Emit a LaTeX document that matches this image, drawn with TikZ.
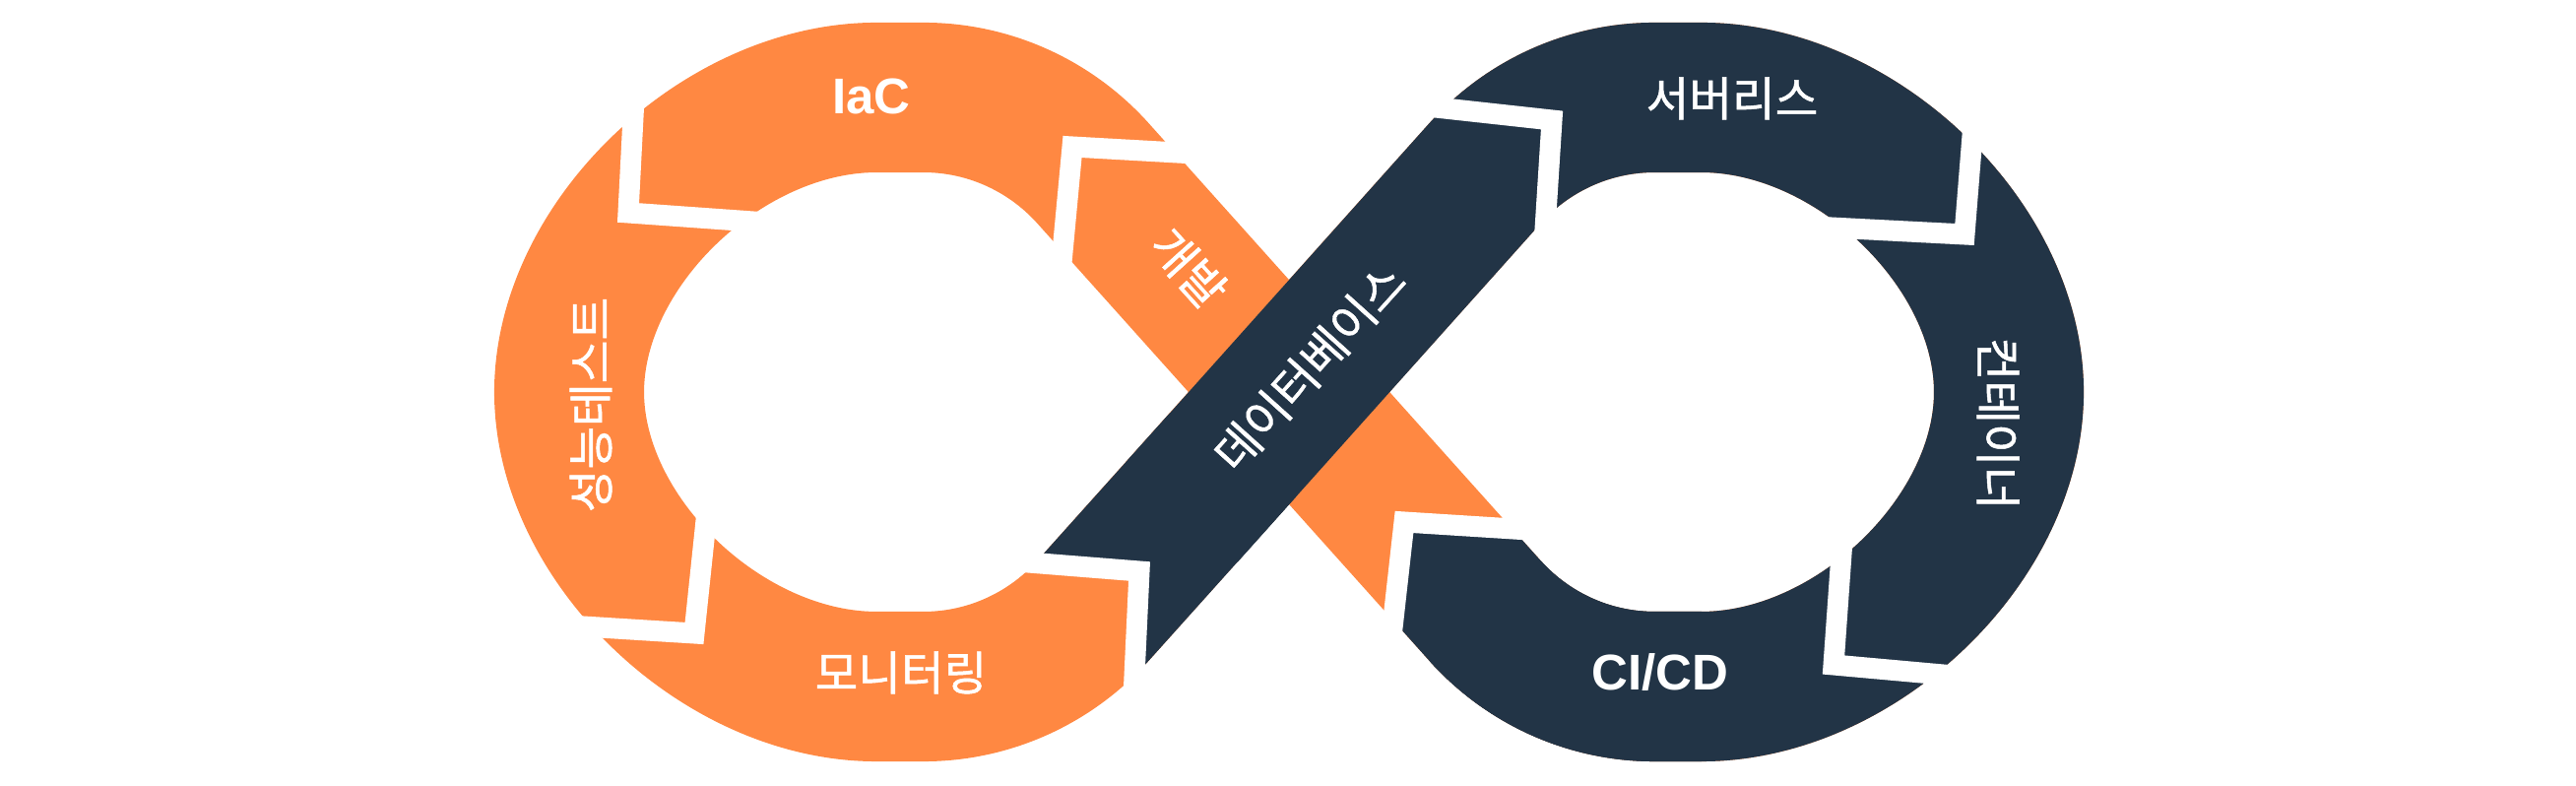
\documentclass[tikz,border=0pt]{standalone}
\usepackage{fontspec}
\usepackage{xcolor}
\usepackage{tikz}
\newfontfamily\krfont{Noto Sans CJK KR}[FakeBold=1]
\newfontfamily\enfont{Liberation Sans}
\definecolor{devorange}{HTML}{FF8842}
\definecolor{opsnavy}{HTML}{223446}

\begin{document}
\begin{tikzpicture}[x=0.01cm,y=-0.01cm]
  \tikzset{band/.style={line width=1.52cm, line join=round},
    gap/.style={draw=white, line width=0.21cm, line join=miter},
    label/.style={text=white, inner sep=0pt, font=\krfont\fontsize{13.5}{16}\selectfont},
    tag/.style={text=white, inner sep=0pt, font=\enfont\bfseries\fontsize{14.5}{17}\selectfont}};
  \useasboundingbox (0,0) rectangle (2616,798);
  \coordinate (x) at (1309,398);
  \coordinate (p1) at (1110,176);
  \coordinate (p2) at (1110,620);
  \coordinate (p3) at (1508,176);
  \coordinate (p4) at (1508,620);
  \coordinate (tl) at (890,99);
  \coordinate (ll) at (578,398);
  \coordinate (bl) at (890,697);
  \coordinate (tr) at (1728,99);
  \coordinate (rr) at (2040,398);
  \coordinate (br) at (1728,697);
  \draw[band, devorange] (x) -- (p1) .. controls (1066,127) and (1003.5,99) .. (938,99) -- (tl)
    .. controls (734,99) and (578,248) .. (ll) .. controls (578,548) and (734,697) .. (bl)
    -- (938,697) .. controls (1003.5,697) and (1066,669) .. (p2) -- (x) -- (p3)
    .. controls (1552,127) and (1614.5,99) .. (1680,99) -- (tr)
    .. controls (1884,99) and (2040,248) .. (rr) .. controls (2040,548) and (1884,697) .. (br)
    -- (1680,697) .. controls (1614.5,697) and (1552,669) .. (p4) -- cycle;
  \begin{scope}
    \clip (1426,530) -- (1610,542) -- (1790,542) -- (1790,798) -- (1407,798) -- (1407,700) -- cycle;
    \draw[band, opsnavy] (1380,477) -- (p4) .. controls (1552,669) and (1614.5,697) .. (1680,697) -- (br);
  \end{scope}
  \draw[band, opsnavy] (p4) .. controls (1552,669) and (1614.5,697) .. (1680,697) -- (br)
    .. controls (1884,697) and (2040,548) .. (rr) .. controls (2040,248) and (1884,99) .. (tr)
    -- (1680,99) .. controls (1614.5,99) and (1552,127) .. (p3) -- (1200,520);
  \begin{scope}
    \clip (1000,567.5) -- (1157,580) -- (1149.5,740) -- (1330,740) -- (1330,420) -- (1000,420) -- cycle;
    \draw[band, opsnavy] (1260,453) -- (p2) .. controls (1066,669) and (1003.5,697) .. (938,697) -- (bl);
  \end{scope}
  \draw[gap] (645,80) -- (638,216) -- (800,227.5);
  \draw[gap] (1240,157.5) -- (1089,149) -- (1073,320);
  \draw[gap] (1610,541.6) -- (1426,530) -- (1407,700);
  \draw[gap] (1873,520) -- (1862,675) -- (2040,691);
  \draw[gap] (2006,100) -- (1995,238) -- (1840,230);
  \draw[gap] (1430,106) -- (1576,122) -- (1566,280);
  \draw[gap] (1000,567.5) -- (1157,580) -- (1149.5,740);
  \draw[gap] (560,634) -- (705,643) -- (720,500);
  \node[tag] (iac) at (885,98) {IaC};
  \node[label, rotate=-48] (dev) at (1207,272) {개발};
  \node[tag] (cicd) at (1686,683) {CI/CD};
  \node[label, rotate=-90] (container) at (2029,430) {컨테이너};
  \node[label] (serverless) at (1759,100) {서버리스};
  \node[label, rotate=48] (database) at (1330,373) {데이터베이스};
  \node[label] (monitoring) at (915,683) {모니터링};
  \node[label, rotate=90] (perftest) at (600,411) {성능테스트};
\end{tikzpicture}
\end{document}
